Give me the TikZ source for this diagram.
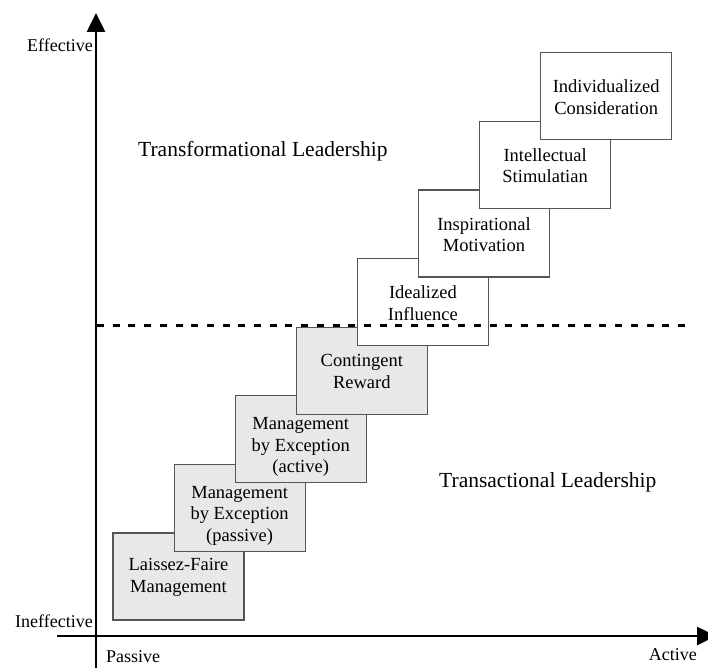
\documentclass[tikz,border=0pt]{standalone}
\usepackage{fontspec}
\setmainfont{Liberation Serif}
\usetikzlibrary{arrows.meta}
\definecolor{boxline}{RGB}{85,85,85}
\definecolor{boxgrey}{RGB}{232,232,232}
\tikzset{
  lbox/.style={draw=boxline, line width=1.2pt, minimum width=131pt, minimum height=87pt, inner sep=0pt},
  lowbox/.style={lbox, fill=boxgrey},
  highbox/.style={lbox, fill=white},
  btext/.style={align=center, inner sep=0pt, font=\fontsize{18.5}{21.5}\selectfont},
  axlabel/.style={inner sep=0pt, font=\fontsize{18}{21}\selectfont},
  biglabel/.style={inner sep=0pt, font=\fontsize{21.5}{25}\selectfont},
  axis/.style={line width=2.6pt, -{Triangle[length=19pt,width=18pt]}},
}
\begin{document}
\begin{tikzpicture}[x=1pt,y=-1pt]
\clip (0,0) rectangle (708,668);
\fill[white] (0,0) rectangle (708,668);
% boxes
\node[lowbox] (b1) at (178.5,576.5) {};
\node[btext] (t1) at ([yshift=-1pt]b1.center) {Laissez-Faire\\Management};
\node[lowbox] (b2) at (239.6,507.9) {};
\node[btext] (t2) at ([yshift=-8pt]b2.center) {Management\\by Exception\\(passive)};
\node[lowbox] (b3) at (300.7,439.3) {};
\node[btext] (t3) at ([yshift=-8pt]b3.center) {Management\\by Exception\\(active)};
\node[lowbox] (b4) at (361.8,370.7) {};
\node[btext] (t4) at ([yshift=-1pt]b4.center) {Contingent\\Reward};
\node[highbox] (b5) at (422.9,302.1) {};
\node[btext] (t5) at ([yshift=-1pt]b5.center) {Idealized\\Influence};
\node[highbox] (b6) at (484.0,233.5) {};
\node[btext] (t6) at ([yshift=-1pt]b6.center) {Inspirational\\Motivation};
\node[highbox] (b7) at (545.1,164.9) {};
\node[btext] (t7) at ([yshift=-1pt]b7.center) {Intellectual\\Stimulatian};
\node[highbox] (b8) at (606.2,96.3) {};
\node[btext] (t8) at ([yshift=-1pt]b8.center) {Individualized\\Consideration};
% dashed divider
\coordinate (dl) at (97,325);
\coordinate (dr) at (692,325);
\draw[line width=3pt, dash pattern=on 7pt off 8.7pt] (dl) -- (dr);
% axes
\coordinate (yb) at (96,668);
\coordinate (yt) at (96,13);
\coordinate (xl) at (57,636);
\coordinate (xr) at (716,636);
\draw[axis] (yb) -- (yt);
\draw[axis] (xl) -- (xr);
% labels
\node[axlabel, anchor=base east] (eff) at (93,52) {Effective};
\node[axlabel, anchor=base east] (ineff) at (93,627) {Ineffective};
\node[axlabel, anchor=base west] (pas) at (106,662) {Passive};
\node[axlabel, anchor=base east] (act) at (697,660) {Active};
\node[biglabel, anchor=base west] (tf) at (138,157) {Transformational Leadership};
\node[biglabel, anchor=base west] (ta) at (439,487) {Transactional Leadership};
\end{tikzpicture}
\end{document}
